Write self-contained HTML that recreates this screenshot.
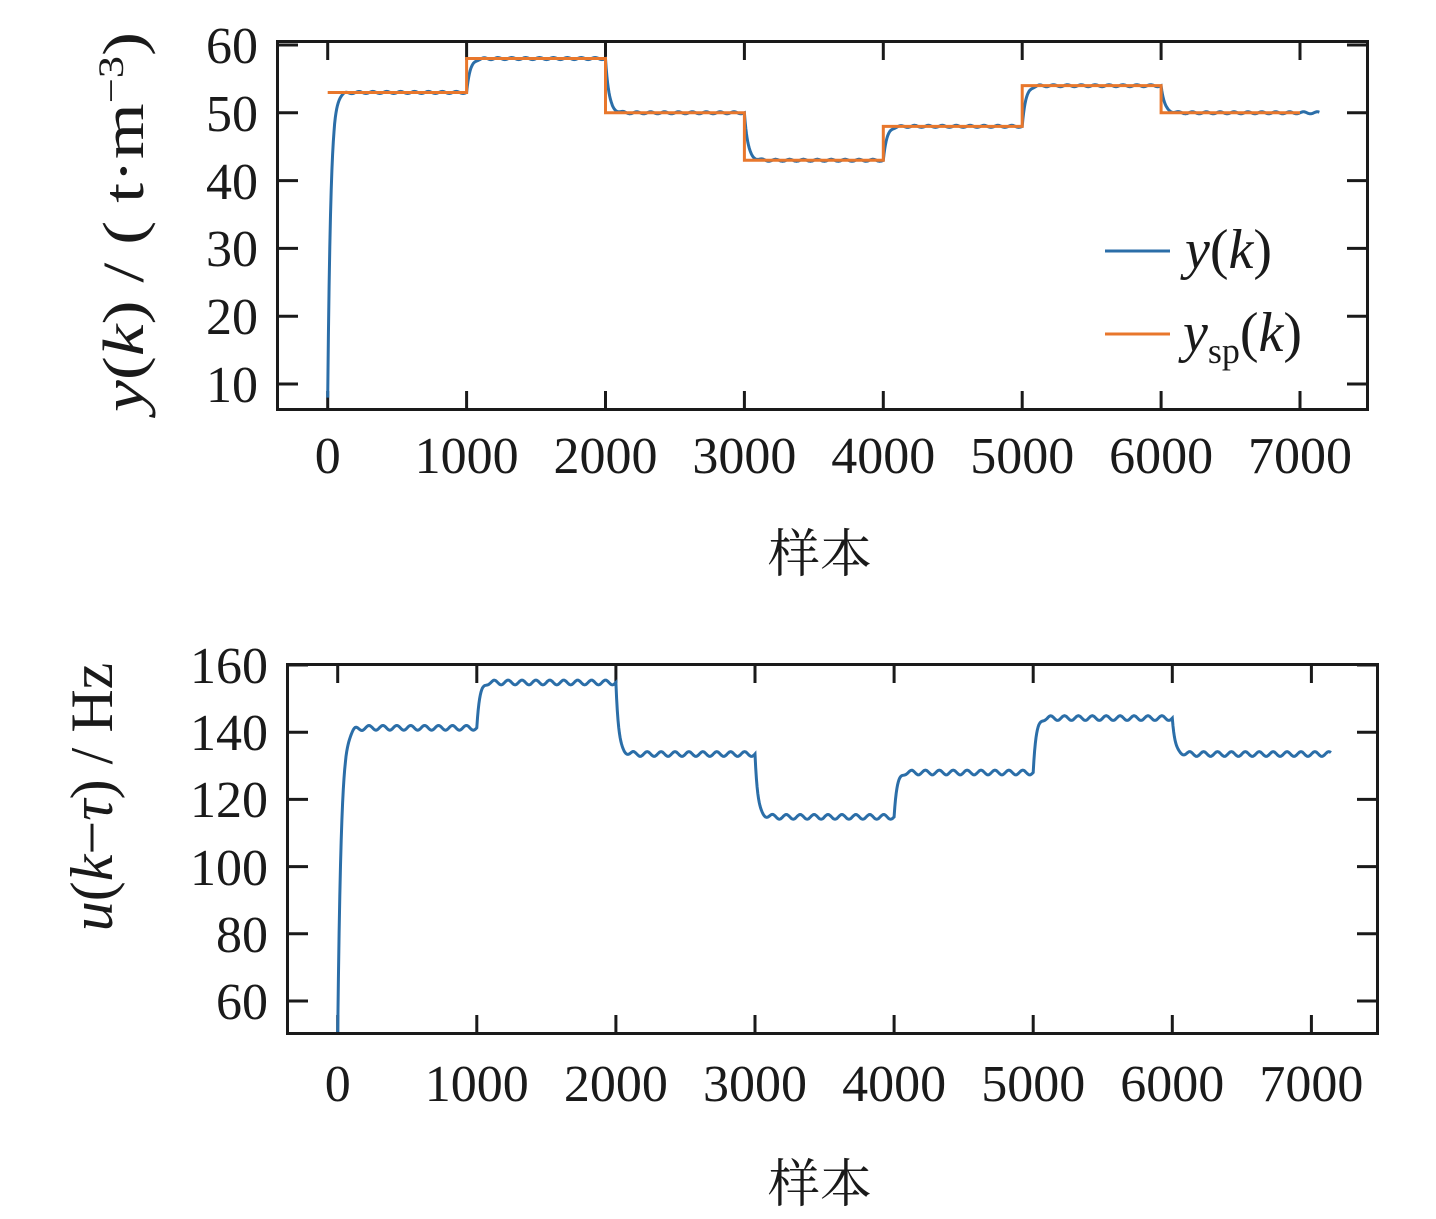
<!DOCTYPE html>
<html><head><meta charset="utf-8"><style>
html,body{margin:0;padding:0;background:#fff;}
svg{display:block;}
text{font-family:"Liberation Serif","Noto Serif CJK SC",serif;fill:#1a1a1a;}
</style></head><body>
<svg id="s" width="1436" height="1219" viewBox="0 0 1436 1219" xmlns="http://www.w3.org/2000/svg">
<g id="gtop"></g>
<g id="gbot"></g>
<rect x="277.5" y="41.5" width="1090" height="368" fill="none" stroke="#1a1a1a" stroke-width="3"/>
<rect x="287.5" y="664.5" width="1090" height="369" fill="none" stroke="#1a1a1a" stroke-width="3"/>
<g font-size="52" text-anchor="end">
<text x="258" y="63">60</text><text x="258" y="131">50</text><text x="258" y="199">40</text>
<text x="258" y="266">30</text><text x="258" y="334">20</text><text x="258" y="402">10</text>
<text x="268" y="683">160</text><text x="268" y="750">140</text><text x="268" y="817">120</text>
<text x="268" y="885">100</text><text x="268" y="952">80</text><text x="268" y="1019">60</text>
</g>
<g font-size="52" text-anchor="middle" id="xl"></g>
<text x="820" y="572" font-size="52" text-anchor="middle" font-family="Noto Serif CJK SC, serif">样本</text>
<text x="820" y="1202" font-size="52" text-anchor="middle" font-family="Noto Serif CJK SC, serif">样本</text>
<text transform="translate(143,222) rotate(-90)" font-size="58" text-anchor="middle" textLength="380" lengthAdjust="spacingAndGlyphs"><tspan font-style="italic">y</tspan>(<tspan font-style="italic">k</tspan>) / ( t·m<tspan dy="-20" font-size="36">−3</tspan><tspan dy="20">)</tspan></text>
<text transform="translate(112,797) rotate(-90)" font-size="60" text-anchor="middle"><tspan font-style="italic">u</tspan>(<tspan font-style="italic">k</tspan>−<tspan font-style="italic">τ</tspan>) / Hz</text>
<line x1="1105" y1="251" x2="1170" y2="251" stroke="#2b6ea8" stroke-width="3"/>
<text x="1185" y="268" font-size="56"><tspan font-style="italic">y</tspan>(<tspan font-style="italic">k</tspan>)</text>
<line x1="1105" y1="334" x2="1170" y2="334" stroke="#e8772c" stroke-width="3"/>
<text x="1183" y="351" font-size="56"><tspan font-style="italic">y</tspan><tspan font-size="36" dy="12">sp</tspan><tspan dy="-12">(</tspan><tspan font-style="italic">k</tspan>)</text>
</svg>
<script>
(function(){
var NS="http://www.w3.org/2000/svg";
function el(p,n,a){var e=document.createElementNS(NS,n);for(var k in a)e.setAttribute(k,a[k]);p.appendChild(e);return e;}
var gt=document.getElementById("gtop"),gb=document.getElementById("gbot"),xl=document.getElementById("xl");
function tx(x,x0){return x0+x*0.1389;}
function bx(x){return 337.7+x*0.1391;}
for(var i=0;i<=7;i++){
 var a=tx(i*1000,327.7),b=bx(i*1000);
 el(gt,"line",{x1:a,y1:42,x2:a,y2:60,stroke:"#1a1a1a","stroke-width":3});
 el(gt,"line",{x1:a,y1:409,x2:a,y2:391,stroke:"#1a1a1a","stroke-width":3});
 el(gb,"line",{x1:b,y1:665,x2:b,y2:683,stroke:"#1a1a1a","stroke-width":3});
 el(gb,"line",{x1:b,y1:1033,x2:b,y2:1015,stroke:"#1a1a1a","stroke-width":3});
 var t=el(xl,"text",{x:a,y:473});t.textContent=i*1000;
 var t2=el(xl,"text",{x:b,y:1101});t2.textContent=i*1000;
}
for(var j=0;j<6;j++){
 var y=45+j*67.8;
 el(gt,"line",{x1:278,y1:y,x2:298,y2:y,stroke:"#1a1a1a","stroke-width":3});
 el(gt,"line",{x1:1367,y1:y,x2:1347,y2:y,stroke:"#1a1a1a","stroke-width":3});
 var y2=665+j*67.2;
 el(gb,"line",{x1:288,y1:y2,x2:308,y2:y2,stroke:"#1a1a1a","stroke-width":3});
 el(gb,"line",{x1:1377,y1:y2,x2:1357,y2:y2,stroke:"#1a1a1a","stroke-width":3});
}
var ys=[53,58,50,43,48,54,50],us=[141.3,154.8,133.5,114.8,128,144.2,133.5];
function tyT(v){return 45+(60-v)*6.78;}
function tyB(v){return 665+(160-v)*3.36;}
var END=7140;
var d="";
for(var k=0;k<7;k++){var x1=tx(k*1000,327.7),x2=tx(Math.min((k+1)*1000,END),327.7);
 d+=(k==0?"M":"L")+x1+","+tyT(ys[k])+" L"+x2+","+tyT(ys[k])+" ";}
var dy="",du="";
for(var n=0;n<=END;n+=5){
 var seg=Math.min(6,Math.floor(n/1000)),t=n-seg*1000;
 var prev=seg==0?8:ys[seg-1],prevu=seg==0?50:us[seg-1];
 var tau=seg==0?22:25;
 var f=1-Math.exp(-t/tau);
 var rip=Math.sin(2*Math.PI*n/100)*(t>120?1:t/120);
 var v=prev+(ys[seg]-prev)*f+0.15*rip;
 var fu=seg==0?1-Math.exp(-t/25):1-Math.exp(-t/20);
 var u=prevu+(us[seg]-prevu)*fu+0.7*rip;
 dy+=(n==0?"M":"L")+tx(n,327.7).toFixed(1)+","+tyT(v).toFixed(1)+" ";
 du+=(n==0?"M":"L")+bx(n).toFixed(1)+","+tyB(u).toFixed(1)+" ";
}
el(gt,"path",{d:dy,fill:"none",stroke:"#2b6ea8","stroke-width":3});
el(gt,"path",{d:d,fill:"none",stroke:"#e8772c","stroke-width":3});
el(gb,"path",{d:du,fill:"none",stroke:"#2b6ea8","stroke-width":3});
})();
</script>
</body></html>
